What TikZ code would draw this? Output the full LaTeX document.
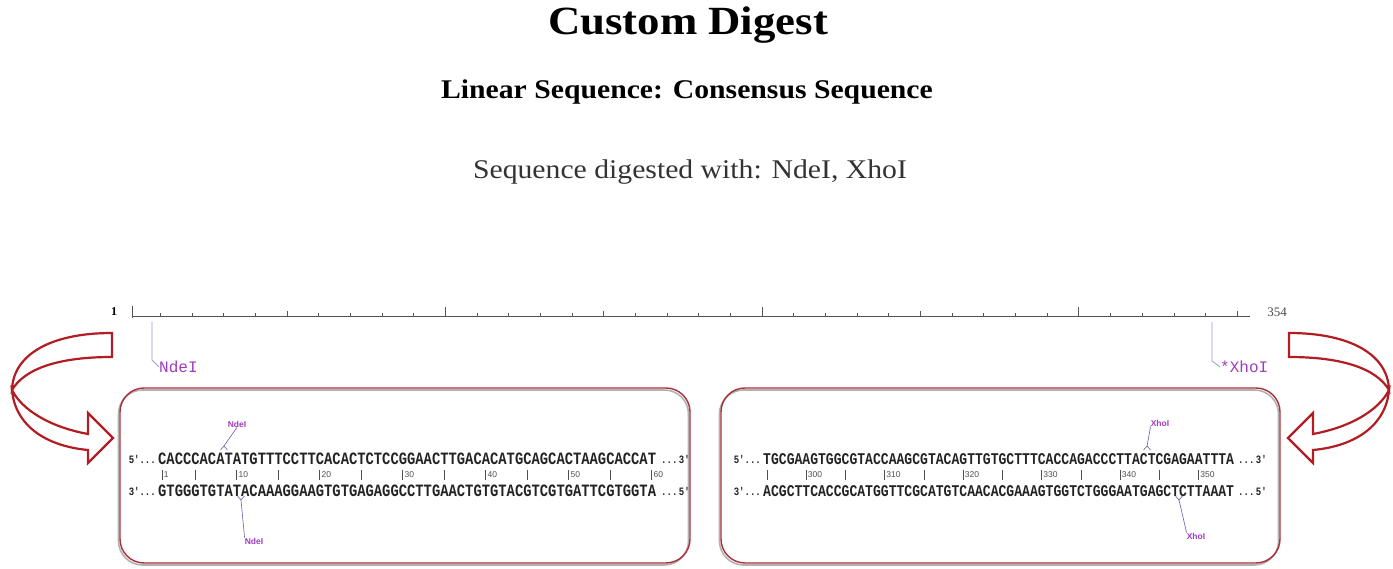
\documentclass[tikz,border=0pt]{standalone}
\usepackage{fontspec}
\setmainfont{Liberation Serif}
\newfontfamily\monof{Liberation Mono}
\newfontfamily\sansf{Liberation Sans}
\usetikzlibrary{calc}
\definecolor{arrowred}{RGB}{178,28,34}
\definecolor{boxred}{RGB}{168,48,56}
\definecolor{enzpurple}{RGB}{160,60,190}
\definecolor{seqgray}{RGB}{35,35,35}
\definecolor{numgray}{RGB}{80,80,80}
\definecolor{rulergray}{RGB}{85,85,85}
\definecolor{markblue}{RGB}{150,160,195}
\definecolor{cutblue}{RGB}{110,90,170}
\begin{document}
\begin{tikzpicture}[x=1pt,y=-1pt,
  seqL/.style={anchor=west, inner sep=0pt, text=seqgray, font=\monof\bfseries\fontsize{13.83}{14}\selectfont},
  seqR/.style={anchor=west, inner sep=0pt, text=seqgray, font=\monof\bfseries\fontsize{13.08}{14}\selectfont},
  endlab/.style={inner sep=0pt, text=seqgray, font=\monof\bfseries\fontsize{9}{9}\selectfont},
  numlab/.style={anchor=west, inner sep=0pt, text=numgray, font=\sansf\fontsize{8.5}{9}\selectfont},
  tickst/.style={draw=numgray, line width=0.8pt},
  enzsmall/.style={inner sep=0pt, text=enzpurple, font=\sansf\bfseries\fontsize{8.5}{9}\selectfont},
  enzbig/.style={anchor=west, inner sep=0pt, text=enzpurple, font=\monof\fontsize{16}{16}\selectfont},
  cutline/.style={draw=cutblue, line width=0.6pt},
  markerline/.style={draw=markblue, line width=0.8pt},
  arrowshape/.style={draw=arrowred, line width=2.2pt, fill=white, line join=miter},
  boxst/.style={draw=boxred, line width=1.4pt, rounded corners=24pt},
  shadowst/.style={draw=black!30, line width=1.6pt, rounded corners=24pt},
  rulerst/.style={draw=rulergray, line width=0.9pt}
]
\useasboundingbox (0,0) rectangle (1393,569);
\fill[white] (0,0) rectangle (1393,569);

% ---------- titles ----------
\node[inner sep=0pt, font=\bfseries\fontsize{40}{40}\selectfont] (title) at (688,25) {\scalebox{1.12}[1]{Custom Digest}};
\node[inner sep=0pt, font=\bfseries\fontsize{27}{27}\selectfont] (sub) at (687,92) {\scalebox{1.1}[1]{Linear Sequence: Consensus Sequence}};
\node[inner sep=0pt, text=black!80, font=\fontsize{27}{27}\selectfont] (dig) at (690,172) {\scalebox{1.1}[1]{Sequence digested with: NdeI, XhoI}};

% ---------- ruler ----------
\coordinate (rs) at (132,316);
\coordinate (re) at (1250,316);
\draw[rulerst] (rs) -- (re);
\draw[rulerst] (132,306) -- (132,318);
\foreach \b in {10,20,...,350} {
  \draw[rulerst] ({132+(\b-1)*3.167},316) -- ++(0,-2.5);
}
\foreach \b in {50,150,250,350} {
  \draw[rulerst] ({132+(\b-1)*3.167},316) -- ++(0,-5);
}
\foreach \b in {100,200,300} {
  \draw[rulerst] ({132+(\b-1)*3.167},316) -- ++(0,-9);
}
\node[inner sep=0pt, font=\bfseries\fontsize{12}{12}\selectfont] (one) at (114,312) {1};
\node[inner sep=0pt, text=black!70, font=\fontsize{13}{13}\selectfont] (end) at (1277,312) {354};

% ruler site markers
\coordinate (nd1) at (152,322);
\coordinate (nd2) at (152,360);
\node[enzbig] (ndlab) at (159,367) {NdeI};
\draw[markerline] (nd1) -- (nd2) -- (ndlab.west);
\coordinate (xh1) at (1212,322);
\coordinate (xh2) at (1212,361);
\node[enzbig] (xhlab) at (1220,367) {*XhoI};
\draw[markerline] (xh1) -- (xh2) -- (xhlab.west);

% ---------- curved arrows ----------
\draw[arrowshape] (112,333) .. controls (50,333) and (13,355) .. (12,390)
  .. controls (25,368) and (60,357) .. (112,357) -- cycle;
\draw[arrowshape] (12,390) .. controls (15,425) and (45,446) .. (88,450)
  -- (88,463) -- (113,438) -- (88,413) -- (88,434)
  .. controls (50,427) and (22,410) .. (12,390) -- cycle;
\begin{scope}[shift={(1401,0)}, xscale=-1]
\draw[arrowshape] (112,333) .. controls (50,333) and (13,355) .. (12,390)
  .. controls (25,368) and (60,357) .. (112,357) -- cycle;
\draw[arrowshape] (12,390) .. controls (15,425) and (45,446) .. (88,450)
  -- (88,463) -- (113,438) -- (88,413) -- (88,434)
  .. controls (50,427) and (22,410) .. (12,390) -- cycle;
\end{scope}

% ---------- boxes ----------
\draw[shadowst] (118.5,390) rectangle (688.5,565);
\draw[boxst] (120,388) rectangle (690,563);
\draw[shadowst] (719.5,390) rectangle (1278.5,565);
\draw[boxst] (721,388) rectangle (1280,563);

% ---------- left box contents ----------
\node[endlab, anchor=east] (lp1) at (156,459) {\scalebox{1}[1.25]{5'...}};
\node[seqL] (ltop) at (158,459) {\scalebox{1}[1.25]{CACCCACATATGTTTCCTTCACACTCTCCGGAACTTGACACATGCAGCACTAAGCACCAT}};
\node[endlab, anchor=west] (ls1) at (661,459) {\scalebox{1}[1.25]{...\,3'}};
\node[endlab, anchor=east] (lp2) at (156,491) {\scalebox{1}[1.25]{3'...}};
\node[seqL] (lbot) at (158,491) {\scalebox{1}[1.25]{GTGGGTGTATACAAAGGAAGTGTGAGAGGCCTTGAACTGTGTACGTCGTGATTCGTGGTA}};
\node[endlab, anchor=west] (ls2) at (661,491) {\scalebox{1}[1.25]{...\,5'}};
\foreach \b in {5,15,...,55} {
  \draw[tickst] ({158+(\b-0.5)*8.3},470) -- ++(0,10);
}
\foreach \b in {1,10,20,30,40,50,60} {
  \draw[tickst] ({158+(\b-0.5)*8.3},470) -- ++(0,10);
  \node[numlab] (ln\b) at ({158+(\b-0.5)*8.3+1.5},475) {\b};
}
% NdeI cut marks
\node[enzsmall] (ndtop) at (237,424) {NdeI};
\coordinate (ndc1) at (224,446);
\draw[cutline] (ndtop.south) -- (ndc1);
\draw[cutline] (220.5,450) -- (ndc1) -- (227.5,450);
\node[enzsmall] (ndbot) at (254,541) {NdeI};
\coordinate (ndc2) at (241,500);
\draw[cutline] (ndc2) -- (ndbot.north west);
\draw[cutline] (237.5,496) -- (ndc2) -- (244.5,496);

% ---------- right box contents ----------
\node[endlab, anchor=east] (rp1) at (761,459) {\scalebox{1}[1.25]{5'...}};
\node[seqR] (rtop) at (763,459) {\scalebox{1}[1.25]{TGCGAAGTGGCGTACCAAGCGTACAGTTGTGCTTTCACCAGACCCTTACTCGAGAATTTA}};
\node[endlab, anchor=west] (rs1) at (1238,459) {\scalebox{1}[1.25]{...\,3'}};
\node[endlab, anchor=east] (rp2) at (761,491) {\scalebox{1}[1.25]{3'...}};
\node[seqR] (rbot) at (763,491) {\scalebox{1}[1.25]{ACGCTTCACCGCATGGTTCGCATGTCAACACGAAAGTGGTCTGGGAATGAGCTCTTAAAT}};
\node[endlab, anchor=west] (rs2) at (1238,491) {\scalebox{1}[1.25]{...\,5'}};
\foreach \b in {1,11,...,51} {
  \draw[tickst] ({763+(\b-0.5)*7.85},470) -- ++(0,10);
}
\foreach \b/\t in {6/300,16/310,26/320,36/330,46/340,56/350} {
  \draw[tickst] ({763+(\b-0.5)*7.85},470) -- ++(0,10);
  \node[numlab] (rn\t) at ({763+(\b-0.5)*7.85+1.5},475) {\t};
}
% XhoI cut marks
\node[enzsmall] (xhtop) at (1160,423) {XhoI};
\coordinate (xhc1) at (1147,446);
\draw[cutline] (xhtop.south west) -- (xhc1);
\draw[cutline] (1143.5,450) -- (xhc1) -- (1150.5,450);
\node[enzsmall] (xhbot) at (1196,536) {XhoI};
\coordinate (xhc2) at (1179,500);
\draw[cutline] (xhc2) -- (xhbot.north west);
\draw[cutline] (1175.5,496) -- (xhc2) -- (1182.5,496);
\end{tikzpicture}
\end{document}
